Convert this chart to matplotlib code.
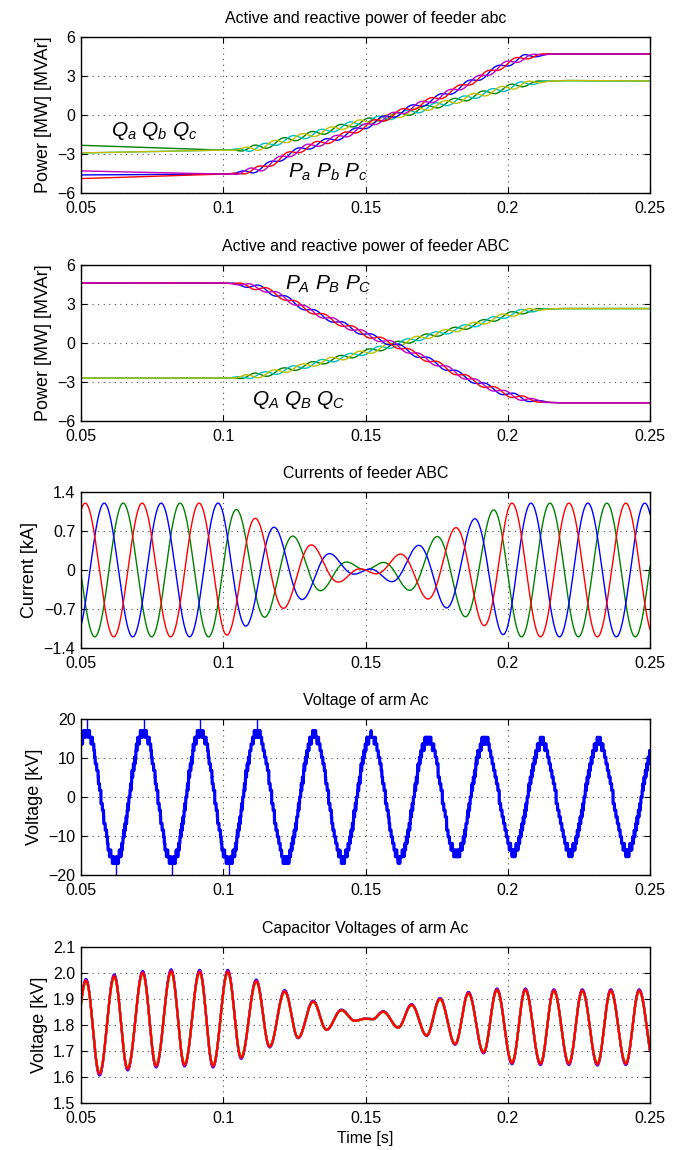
import numpy as np
import matplotlib
matplotlib.use("Agg")
import matplotlib.pyplot as plt
from matplotlib import font_manager

names = {f.name for f in font_manager.fontManager.ttflist}
narrow = 'Liberation Sans Narrow' in names
base = 'Liberation Sans Narrow' if narrow else 'Liberation Sans'
plt.rcParams['font.family'] = [base, 'Liberation Sans', 'DejaVu Sans']
plt.rcParams['mathtext.fontset'] = 'custom'
plt.rcParams['mathtext.it'] = 'Liberation Sans:italic'
plt.rcParams['mathtext.rm'] = 'Liberation Sans'
FS = 12.5 if narrow else 11.5
LAB = dict(fontsize=13, family=['Liberation Sans', 'DejaVu Sans'])
PQ = 15

# ---------------------------------------------------------------------
# data
# ---------------------------------------------------------------------
x_ticks = [0.05, 0.1, 0.15, 0.2, 0.25]
x_ticklabels = ['0.05', '0.1', '0.15', '0.2', '0.25']

# feeder abc: mean active / reactive power [MW] [MVAr]
p_abc_t = [0.05, 0.100, 0.105, 0.1076, 0.1137, 0.1214, 0.129, 0.1368, 0.1445, 0.1522,
           0.1598, 0.1675, 0.1752, 0.1829, 0.1906, 0.1982, 0.2059, 0.2136, 0.218, 0.25]
p_abc_v = [-4.6, -4.55, -4.5, -4.37, -4.1, -3.2, -2.5, -2.0, -1.4, -0.65,
           0.0, 0.66, 1.3, 2.08, 2.93, 3.8, 4.45, 4.68, 4.7, 4.7]
p_abc_start = [-0.29, -0.01, 0.3]          # red, blue, magenta offset at t=0.05
q_abc_t = [0.05, 0.100, 0.1076, 0.1137, 0.1214, 0.129, 0.1368, 0.1445, 0.1522, 0.1598,
           0.1675, 0.1752, 0.1829, 0.1906, 0.1982, 0.2059, 0.2136, 0.22, 0.25]
q_abc_v = [-2.72, -2.7, -2.65, -2.45, -1.95, -1.6, -1.2, -0.75, -0.4, -0.1,
           0.3, 0.75, 1.15, 1.6, 2.0, 2.4, 2.6, 2.65, 2.62]
q_abc_start = [0.39, -0.2, -0.2]           # green, cyan, yellow

# feeder ABC
p_ABC_t = [0.05, 0.100, 0.105, 0.1137, 0.1214, 0.129, 0.1368, 0.1445, 0.1522, 0.1598,
           0.1675, 0.1752, 0.1829, 0.1906, 0.1982, 0.2059, 0.2136, 0.218, 0.25]
p_ABC_v = [4.62, 4.62, 4.55, 4.2, 3.5, 2.65, 1.92, 1.2, 0.49, -0.08,
           -0.85, -1.6, -2.4, -3.15, -3.8, -4.3, -4.56, -4.6, -4.6]
q_ABC_v = [-2.7, -2.7, -2.66, -2.45, -2.1, -1.75, -1.35, -1.0, -0.6, -0.15,
           0.3, 0.7, 1.1, 1.55, 2.05, 2.45, 2.62, 2.65, 2.65]

# 100 Hz ripple on the power curves during the transfer
ripple_t = [0.05, 0.102, 0.11, 0.205, 0.215, 0.25]
ripple_v = [0.0, 0.0, 0.22, 0.22, 0.0, 0.0]

# feeder ABC currents: signed peak amplitude [kA], 50 Hz, red phase peak at 0.0515 s
cur_t = [0.05, 0.10, 0.15, 0.20, 0.25]
cur_amp = [1.2, 1.2, 0.0, -1.2, -1.2]
cur_peak_red = 0.0515

# arm voltage: peak / trough magnitudes [kV]
arm_ext_t = [0.052, 0.062, 0.072, 0.082, 0.092, 0.102, 0.112, 0.122, 0.132, 0.142,
             0.152, 0.162, 0.172, 0.182, 0.192, 0.202, 0.212, 0.222, 0.232, 0.242]
arm_ext_v = [17, 17, 17, 17, 17, 17, 16.8, 16.5, 16, 16,
             15.5, 15.5, 15, 15, 14.5, 14, 14, 14, 14, 14]
arm_spike_t = [0.052, 0.0623, 0.072, 0.082, 0.092, 0.102, 0.112]
arm_spike_v = [20.5, -20.5, 20.5, -20.5, 20.5, -20.5, 20.5]

# capacitor voltages: successive extrema [s], [kV]
cap_ext_t = [0.0465, 0.0518, 0.0565, 0.0617, 0.0664, 0.0717, 0.0764, 0.0817, 0.0864, 0.0917,
             0.0964, 0.1016, 0.1063, 0.1116, 0.1163, 0.1216, 0.1263, 0.1316, 0.1363, 0.1415,
             0.1462, 0.1500, 0.1525, 0.1562, 0.1615, 0.1662, 0.1715, 0.1762, 0.1815, 0.1862,
             0.1915, 0.1962, 0.2015, 0.2062, 0.2115, 0.2162, 0.2215, 0.2262, 0.2315, 0.2362,
             0.2415, 0.2462, 0.2515]
cap_ext_v = [1.63, 1.970, 1.613, 1.987, 1.632, 2.000, 1.643, 2.006, 1.647, 2.004,
             1.643, 2.004, 1.675, 1.968, 1.717, 1.929, 1.751, 1.890, 1.782, 1.857,
             1.816, 1.824, 1.822, 1.851, 1.790, 1.877, 1.760, 1.900, 1.727, 1.922,
             1.695, 1.935, 1.655, 1.935, 1.652, 1.932, 1.652, 1.932, 1.650, 1.932,
             1.652, 1.932, 1.652]
cap_colors = ['b', 'g', 'c', 'm', 'y', 'r']
cap_gain = [1.04, 1.0, 0.99, 1.02, 0.98, 1.0]

# ---------------------------------------------------------------------
t = np.linspace(0.05, 0.25, 20001)
F = 50.0


def smooth(y, n=151):
    pad = np.pad(y, n, mode='edge')
    return np.convolve(pad, np.ones(n) / n, mode='same')[n:-n]


def half_cos(tt, et, ev):
    et = np.asarray(et)
    ev = np.asarray(ev)
    i = np.clip(np.searchsorted(et, tt, side='right') - 1, 0, len(et) - 2)
    s = (tt - et[i]) / (et[i + 1] - et[i])
    return ev[i] + (ev[i + 1] - ev[i]) * (1 - np.cos(np.pi * s)) / 2


def style(ax, ylim, yticks, yticklabels=None):
    ax.set_xlim(0.05, 0.25)
    ax.set_ylim(*ylim)
    ax.set_xticks(x_ticks)
    ax.set_xticklabels(x_ticklabels)
    ax.set_yticks(yticks)
    if yticklabels is not None:
        ax.set_yticklabels(yticklabels)
    ax.grid(True, color='0.3', linestyle=(0, (1, 4)), linewidth=0.8)
    ax.tick_params(direction='in', top=True, right=True, length=4, labelsize=FS)
    ax.tick_params(axis='x', pad=6)
    ax.tick_params(axis='y', pad=4)
    for s in ax.spines.values():
        s.set_linewidth(1.0)


W, H = 685, 1150
tops = [37, 265, 492, 719, 947]
fig = plt.figure(figsize=(6.85, 11.5), dpi=100)
axs = [fig.add_axes([81 / W, 1 - (y + 156) / H, 569 / W, 156 / H]) for y in tops]

decay = np.clip((0.1 - t) / 0.05, 0, 1)
rip = np.interp(t, ripple_t, ripple_v)
ph = [0, -2 * np.pi / 3, -4 * np.pi / 3]
w100 = 2 * np.pi * 100 * t

# --- panel 1
ax = axs[0]
qm = smooth(np.interp(t, q_abc_t, q_abc_v))
for k, c in enumerate(['g', 'c', 'y']):
    ax.plot(t, qm + q_abc_start[k] * decay + rip * np.sin(w100 + ph[k] + 1.0), color=c, lw=1)
pm = smooth(np.interp(t, p_abc_t, p_abc_v))
for k, c in zip([1, 0, 2], ['b', 'r', 'm']):
    ax.plot(t, pm + p_abc_start[k] * decay + rip * np.sin(w100 + ph[k]), color=c, lw=1)
ax.text(0.0605, -1.2, r'$Q_a$ $Q_b$ $Q_c$', fontsize=PQ, va='center')
ax.text(0.1228, -4.4, r'$P_a$ $P_b$ $P_c$', fontsize=PQ, va='center')
style(ax, (-6, 6), [-6, -3, 0, 3, 6])
ax.set_title('Active and reactive power of feeder abc', fontsize=FS, pad=10)
ax.set_ylabel('Power [MW] [MVAr]', **LAB)

# --- panel 2
ax = axs[1]
qm = smooth(np.interp(t, p_ABC_t, q_ABC_v))
for k, c in enumerate(['g', 'c', 'y']):
    ax.plot(t, qm + 0.9 * rip * np.sin(w100 + ph[k] + 1.0), color=c, lw=1)
pm = smooth(np.interp(t, p_ABC_t, p_ABC_v))
for k, c in enumerate(['b', 'r', 'm']):
    ax.plot(t, pm + 0.9 * rip * np.sin(w100 + ph[k]), color=c, lw=1)
ax.text(0.1218, 4.5, r'$P_A$ $P_B$ $P_C$', fontsize=PQ, va='center')
ax.text(0.1102, -4.35, r'$Q_A$ $Q_B$ $Q_C$', fontsize=PQ, va='center')
style(ax, (-6, 6), [-6, -3, 0, 3, 6])
ax.set_title('Active and reactive power of feeder ABC', fontsize=FS, pad=10)
ax.set_ylabel('Power [MW] [MVAr]', **LAB)

# --- panel 3
ax = axs[2]
amp = np.interp(t, cur_t, cur_amp)
w50 = 2 * np.pi * F * (t - cur_peak_red) + np.pi / 2
for k, c in [(2, (0, 0.5, 0)), (1, 'b'), (0, 'r')]:
    ax.plot(t, amp * np.sin(w50 - k * 2 * np.pi / 3), color=c, lw=1.0)
style(ax, (-1.4, 1.4), [-1.4, -0.7, 0, 0.7, 1.4], ['\u22121.4', '\u22120.7', '0', '0.7', '1.4'])
ax.set_title('Currents of feeder ABC', fontsize=FS, pad=10)
ax.set_ylabel('Current [kA]', **LAB)

# --- panel 4
ax = axs[3]
env = np.interp(t, arm_ext_t, arm_ext_v)
v = env * np.cos(2 * np.pi * F * (t - arm_ext_t[0]))
step = 1.7
carrier = (t * 2000.0) % 1.0
vq = step * np.floor(v / step + carrier)
ax.plot(t, vq, color='b', lw=2.3)
ax.vlines(arm_spike_t, np.interp(arm_spike_t, t, vq), arm_spike_v, color='b', lw=1)
style(ax, (-20, 20), [-20, -10, 0, 10, 20])
ax.set_title('Voltage of arm Ac', fontsize=FS, pad=10)
ax.set_ylabel('Voltage [kV]', **LAB)

# --- panel 5
ax = axs[4]
vc = half_cos(t, cap_ext_t, cap_ext_v)
for c, g in zip(cap_colors, cap_gain):
    ax.plot(t, 1.8 + (vc - 1.8) * g, color=c, lw=1.6)
style(ax, (1.5, 2.1), [1.5, 1.6, 1.7, 1.8, 1.9, 2.0, 2.1],
      ['1.5', '1.6', '1.7', '1.8', '1.9', '2.0', '2.1'])
ax.set_title('Capacitor Voltages of arm Ac', fontsize=FS, pad=10)
ax.set_ylabel('Voltage [kV]', **LAB)
ax.set_xlabel('Time [s]', fontsize=FS, labelpad=3)

fig.savefig('out.png', dpi=100)
